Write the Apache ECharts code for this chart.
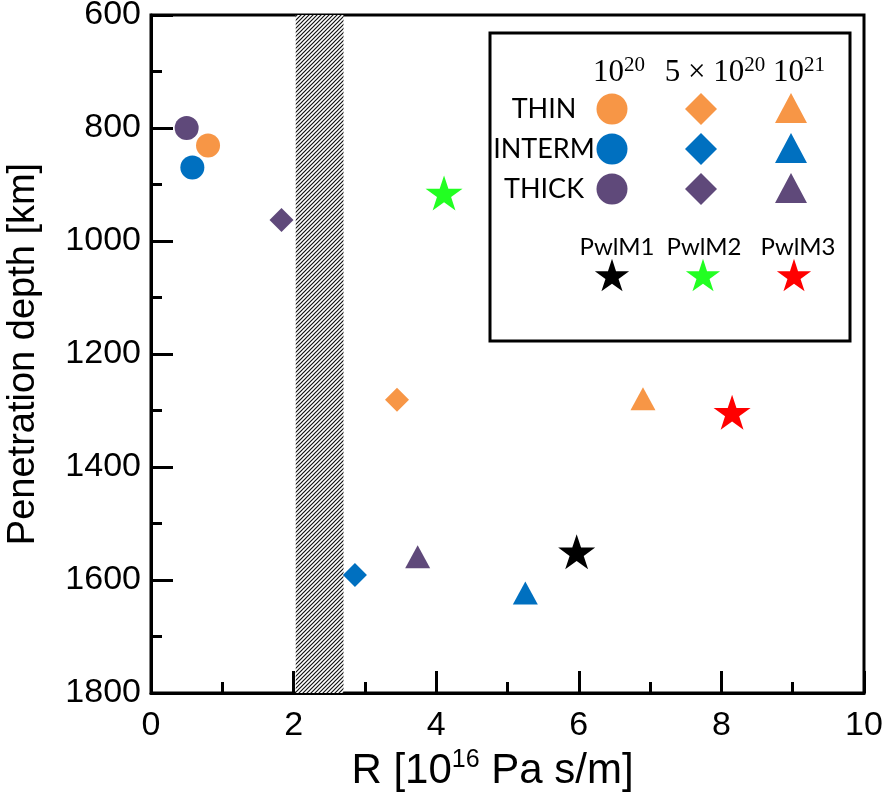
<!DOCTYPE html>
<html>
<head>
<meta charset="utf-8">
<script src="https://cdn.jsdelivr.net/npm/echarts@6/dist/echarts.min.js"></script>
<style>
  html, body { margin: 0; padding: 0; background: #fff; }
  #chart { width: 893px; height: 798px; }
</style>
</head>
<body>
<div id="chart"></div>
<script>
// Penetration depth versus R for three plate thicknesses and three viscosities,
// plus the three power-law models (PwlM1-3).
const viscosityLabels = ['10{sup|20}', '5 × 10{sup|20}', '10{sup|21}'];
const thicknessLabels = ['THIN', 'INTERM', 'THICK'];
const thicknessColors = ['#F79646', '#0070C0', '#5F497A'];
const viscositySymbols = ['circle', 'diamond', 'triangle'];

// R [1e16 Pa s/m] and depth [km], ordered by viscosity 1e20, 5e20, 1e21
const thinR = [0.80, 3.45, 6.90];
const thinDepth = [831, 1281, 1279];
const intermR = [0.58, 2.86, 5.25];
const intermDepth = [870, 1591, 1623];
const thickR = [0.50, 1.83, 3.74];
const thickDepth = [800, 963, 1559];

const pwlmLabels = ['PwlM1', 'PwlM2', 'PwlM3'];
const pwlmColors = ['#000000', '#22FF22', '#FF0000'];
const pwlmR = [5.97, 4.11, 8.15];
const pwlmDepth = [1550, 915, 1303];

// shaded R interval
const bandR = [2.03, 2.70];

const xTicks = [0, 2, 4, 6, 8, 10];
const yTicks = [600, 800, 1000, 1200, 1400, 1600, 1800];

const STAR_PATH = 'path://M50 0 L61.23 34.55 L97.55 34.55 L68.17 55.9 L79.39 90.45 L50 69.1 L20.61 90.45 L31.83 55.9 L2.45 34.55 L38.77 34.55 Z';

function hatchPattern() {
  const c = document.createElement('canvas');
  c.width = 4; c.height = 4;
  const g = c.getContext('2d');
  g.fillStyle = '#ffffff';
  g.fillRect(0, 0, 4, 4);
  g.strokeStyle = '#111111';
  g.lineWidth = 1.2;
  g.beginPath();
  g.moveTo(-1, 5); g.lineTo(5, -1);
  g.moveTo(-1, 1); g.lineTo(1, -1);
  g.moveTo(3, 5); g.lineTo(5, 3);
  g.stroke();
  return { image: c, repeat: 'repeat' };
}

function symbolSize(sym) {
  if (sym === 'triangle') return [25, 23];
  if (sym === 'diamond') return [24, 24];
  return 24;
}

function thicknessSeries(name, color, rs, depths) {
  return {
    name: name,
    type: 'scatter',
    z: 5,
    data: rs.map((r, i) => ({
      value: [r, depths[i]],
      symbol: viscositySymbols[i],
      symbolSize: symbolSize(viscositySymbols[i])
    })),
    itemStyle: { color: color, opacity: 1 }
  };
}

const series = [
  thicknessSeries(thicknessLabels[0], thicknessColors[0], thinR, thinDepth),
  thicknessSeries(thicknessLabels[1], thicknessColors[1], intermR, intermDepth),
  thicknessSeries(thicknessLabels[2], thicknessColors[2], thickR, thickDepth),
  {
    name: 'PwlM',
    type: 'scatter',
    z: 5,
    symbol: STAR_PATH,
    symbolSize: [37, 35],
    itemStyle: { opacity: 1 },
    data: pwlmR.map((r, i) => ({ value: [r, pwlmDepth[i]], itemStyle: { color: pwlmColors[i], opacity: 1 } })),
    markArea: {
      silent: true,
      z: 1,
      itemStyle: { color: hatchPattern(), borderWidth: 0, opacity: 1 },
      data: [[{ xAxis: bandR[0] }, { xAxis: bandR[1] }]]
    }
  }
];

// ---- legend table drawn as graphics ----
const legendBox = { x: 490, y: 33, w: 360, h: 308 };
const colX = [612, 701, 791];
const rowY = [109, 149, 189];
const headerY = 73;
const headerX = [619, 715, 799];
const pwlmTextY = 247;
const pwlmTextX = [617, 704, 798];
const pwlmStarY = 275;
const pwlmStarX = [612, 703, 794];

function starPoints(cx, cy, R) {
  const pts = [];
  const r = R * 0.382;
  for (let k = 0; k < 10; k++) {
    const a = -Math.PI / 2 + k * Math.PI / 5;
    const rad = k % 2 === 0 ? R : r;
    pts.push([cx + rad * Math.cos(a), cy + rad * Math.sin(a) + R * 0.1]);
  }
  return pts;
}

function legendMarker(sym, cx, cy, color) {
  if (sym === 'circle') {
    return { type: 'circle', shape: { cx: cx, cy: cy, r: 15.5 }, style: { fill: color } };
  }
  if (sym === 'diamond') {
    return { type: 'polygon', shape: { points: [[cx, cy - 16], [cx + 16, cy], [cx, cy + 16], [cx - 16, cy]] }, style: { fill: color } };
  }
  return { type: 'polygon', shape: { points: [[cx, cy - 16], [cx + 16, cy + 14], [cx - 16, cy + 14]] }, style: { fill: color } };
}

const graphics = [{
  type: 'rect',
  shape: { x: legendBox.x, y: legendBox.y, width: legendBox.w, height: legendBox.h },
  style: { fill: '#ffffff', stroke: '#000000', lineWidth: 3 },
  z: 100
}];

viscosityLabels.forEach((t, i) => {
  graphics.push({
    type: 'text', z: 101, x: headerX[i], y: headerY,
    style: {
      text: t, fill: '#000', align: 'center', verticalAlign: 'middle',
      font: '31px "Liberation Serif", "DejaVu Serif", serif',
      rich: { sup: { fontSize: 21, fontFamily: 'Liberation Serif', verticalAlign: 'top', padding: [0, 0, 16, 0] } }
    }
  });
});

thicknessLabels.forEach((t, row) => {
  graphics.push({
    type: 'text', z: 101, x: 544, y: rowY[row],
    style: { text: t, fill: '#000', align: 'center', verticalAlign: 'middle', font: '27px Lato, "Open Sans", sans-serif' }
  });
  viscositySymbols.forEach((sym, col) => {
    const m = legendMarker(sym, colX[col], rowY[row], thicknessColors[row]);
    m.z = 101;
    graphics.push(m);
  });
});

pwlmLabels.forEach((t, i) => {
  graphics.push({
    type: 'text', z: 101, x: pwlmTextX[i], y: pwlmTextY,
    style: { text: t, fill: '#000', align: 'center', verticalAlign: 'middle', font: '24px Lato, "Open Sans", sans-serif' }
  });
  graphics.push({
    type: 'polygon', z: 101,
    shape: { points: starPoints(pwlmStarX[i], pwlmStarY, 18) },
    style: { fill: pwlmColors[i] }
  });
});

const axisFont = 'Liberation Sans';

const option = {
  animation: false,
  backgroundColor: '#ffffff',
  grid: {
    left: 151, right: 29, top: 15, bottom: 105,
    outerBoundsMode: 'none',
    containLabel: false,
    show: true, borderColor: '#000', borderWidth: 3, backgroundColor: 'transparent'
  },
  xAxis: {
    type: 'value', min: xTicks[0], max: xTicks[xTicks.length - 1], interval: 2,
    name: 'R [10{sup|16} Pa s/m]',
    nameLocation: 'middle', nameGap: 54,
    nameTextStyle: {
      fontFamily: axisFont, fontSize: 42, color: '#000', padding: [0, 30, 0, 0],
      rich: { sup: { fontFamily: axisFont, fontSize: 25, color: '#000', verticalAlign: 'top', padding: [0, 0, 22, 0] } }
    },
    axisLine: { show: true, lineStyle: { color: '#000', width: 3 } },
    axisTick: { show: true, inside: true, length: 22, lineStyle: { color: '#000', width: 3 } },
    minorTick: { show: true, splitNumber: 2, length: 11, lineStyle: { color: '#000', width: 3 } },
    axisLabel: { fontFamily: axisFont, fontSize: 34, color: '#000', margin: 16 },
    splitLine: { show: false }
  },
  yAxis: {
    type: 'value', inverse: true, min: yTicks[0], max: yTicks[yTicks.length - 1], interval: 200,
    name: 'Penetration depth [km]',
    nameLocation: 'middle', nameGap: 108, nameRotate: 90,
    nameTextStyle: { fontFamily: axisFont, fontSize: 38, color: '#000' },
    axisLine: { show: true, lineStyle: { color: '#000', width: 3 } },
    axisTick: { show: true, inside: true, length: 22, lineStyle: { color: '#000', width: 3 } },
    minorTick: { show: true, splitNumber: 2, length: 11, lineStyle: { color: '#000', width: 3 } },
    axisLabel: { fontFamily: axisFont, fontSize: 34, color: '#000', margin: 10, formatter: v => String(v) },
    splitLine: { show: false }
  },
  series: series,
  graphic: graphics
};

const chart = echarts.init(document.getElementById('chart'), null, { renderer: 'canvas' });
chart.setOption(option);
</script>
</body>
</html>
